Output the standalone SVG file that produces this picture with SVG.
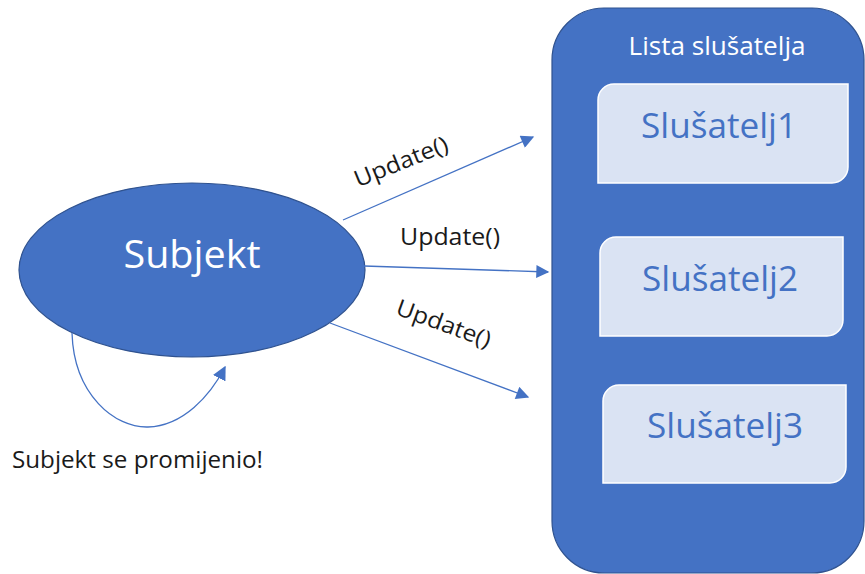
<svg xmlns="http://www.w3.org/2000/svg" width="865" height="574" viewBox="0 0 865 574">
<style>
.conn{fill:none;stroke:#4472C4;stroke-width:1.3}
.lbl{font-family:"Open Sans","Noto Sans",sans-serif;fill:#1a1a1a}
.item{fill:#DAE3F3;stroke:#ffffff;stroke-width:1.5}
.itemtxt{font-family:"Open Sans","Noto Sans",sans-serif;font-size:35px;fill:#4472C4;text-anchor:middle}
</style>
<defs>
<marker id="ah" viewBox="0 0 10 10" refX="9" refY="5" markerWidth="14" markerHeight="13" markerUnits="userSpaceOnUse" orient="auto">
<path d="M0,0 L10,5 L0,10 Z" fill="#4472C4"/>
</marker>
<marker id="ah2" viewBox="0 0 10 10" refX="9" refY="5" markerWidth="14" markerHeight="14" markerUnits="userSpaceOnUse" orient="auto">
<path d="M0,0 L10,5 L0,10 Z" fill="#4472C4"/>
</marker>
</defs>
<rect width="865" height="574" fill="#ffffff"/>

<g id="lista">
<rect x="552" y="8" width="312" height="565" rx="52" ry="52" fill="#4472C4" stroke="#2F528F" stroke-width="1.2"/>
<text x="717" y="55" font-family="'Open Sans','Noto Sans',sans-serif" font-size="25" fill="#ffffff" text-anchor="middle" textLength="177" lengthAdjust="spacingAndGlyphs">Lista slušatelja</text>
</g>

<g id="slusatelj1">
<path class="item" d="M614,84 H848 V167 A16,16 0 0 1 832,183 H598 V100 A16,16 0 0 1 614,84 Z"/>
<text class="itemtxt" x="719" y="138" textLength="156" lengthAdjust="spacingAndGlyphs">Slušatelj1</text>
</g>
<g id="slusatelj2">
<path class="item" d="M616,237 H843 V320 A16,16 0 0 1 827,336 H600 V253 A16,16 0 0 1 616,237 Z"/>
<text class="itemtxt" x="720" y="291" textLength="156" lengthAdjust="spacingAndGlyphs">Slušatelj2</text>
</g>
<g id="slusatelj3">
<path class="item" d="M619,385 H846 V467 A16,16 0 0 1 830,483 H603 V401 A16,16 0 0 1 619,385 Z"/>
<text class="itemtxt" x="725" y="438" textLength="156" lengthAdjust="spacingAndGlyphs">Slušatelj3</text>
</g>

<g id="subjekt">
<ellipse cx="192" cy="270" rx="173" ry="87" fill="#4472C4" stroke="#2F528F" stroke-width="1.2"/>
<text x="192" y="268" font-family="'Open Sans','Noto Sans',sans-serif" font-size="39" fill="#ffffff" text-anchor="middle" textLength="137" lengthAdjust="spacingAndGlyphs">Subjekt</text>
</g>

<g id="connectors">
<line class="conn" x1="343" y1="220" x2="533" y2="137" marker-end="url(#ah)"/>
<line class="conn" x1="364" y1="266" x2="548" y2="272" marker-end="url(#ah)"/>
<line class="conn" x1="330" y1="323" x2="528" y2="397" marker-end="url(#ah)"/>
<path class="conn" d="M72,333 C74,395 115,428 148,427 C183,426 210,396 225,367" marker-end="url(#ah2)"/>
</g>

<g id="labels">
<text class="lbl" font-size="23" text-anchor="middle" transform="translate(404,169) rotate(-22)" textLength="99" lengthAdjust="spacingAndGlyphs">Update()</text>
<text class="lbl" font-size="23" x="450" y="245" text-anchor="middle" textLength="100" lengthAdjust="spacingAndGlyphs">Update()</text>
<text class="lbl" font-size="23" text-anchor="middle" transform="translate(441,331) rotate(20)" textLength="99" lengthAdjust="spacingAndGlyphs">Update()</text>
<text class="lbl" font-size="23" x="12" y="468" textLength="251" lengthAdjust="spacingAndGlyphs">Subjekt se promijenio!</text>
</g>
</svg>
